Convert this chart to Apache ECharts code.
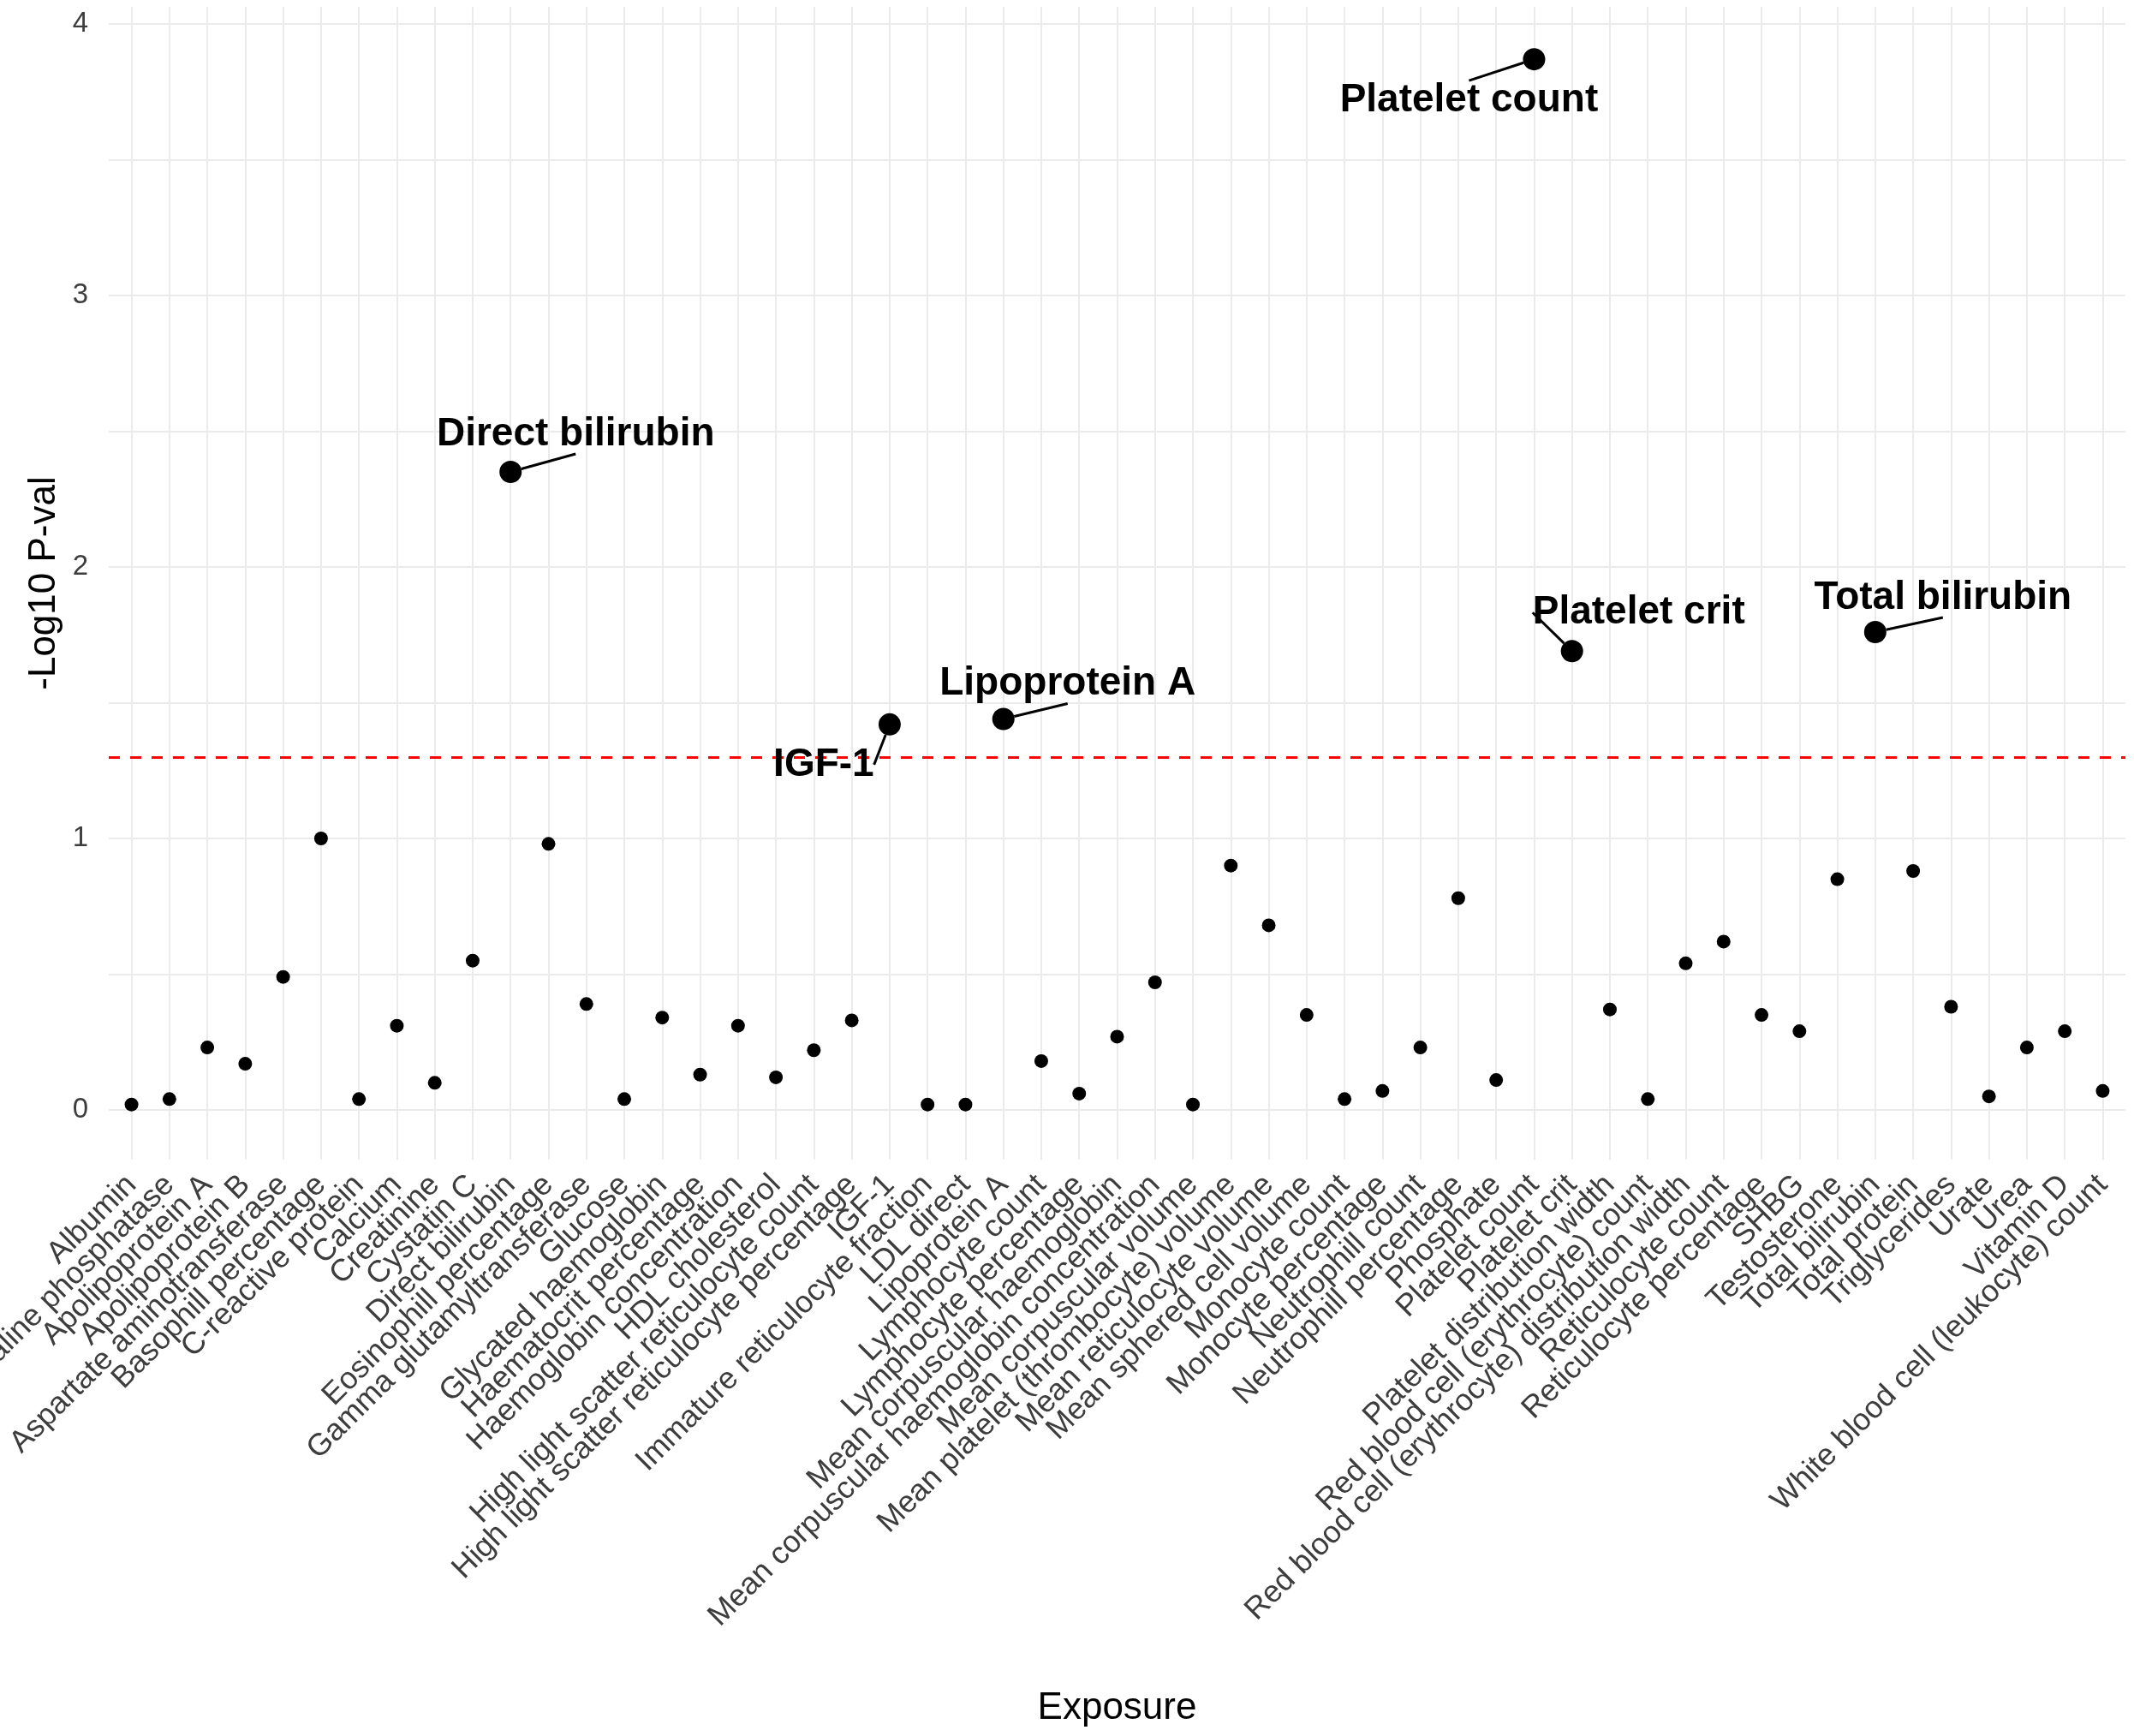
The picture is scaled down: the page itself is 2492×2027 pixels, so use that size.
<!DOCTYPE html>
<html>
<head>
<meta charset="utf-8">
<title>Exposure -Log10 P-val</title>
<script src="https://cdn.jsdelivr.net/npm/echarts@6/dist/echarts.min.js"></script>
<style>
  html, body { margin: 0; padding: 0; background: #fff; }
  #chart { width: 2492px; height: 2027px; }
</style>
</head>
<body>
<div id="chart"></div>
<script>
// exposures, in axis order
var categories = [
  'Albumin', 'Alkaline phosphatase', 'Apolipoprotein A', 'Apolipoprotein B',
  'Aspartate aminotransferase', 'Basophill percentage', 'C-reactive protein', 'Calcium',
  'Creatinine', 'Cystatin C', 'Direct bilirubin', 'Eosinophill percentage',
  'Gamma glutamyltransferase', 'Glucose', 'Glycated haemoglobin', 'Haematocrit percentage',
  'Haemoglobin concentration', 'HDL cholesterol', 'High light scatter reticulocyte count',
  'High light scatter reticulocyte percentage', 'IGF-1', 'Immature reticulocyte fraction',
  'LDL direct', 'Lipoprotein A', 'Lymphocyte count', 'Lymphocyte percentage',
  'Mean corpuscular haemoglobin', 'Mean corpuscular haemoglobin concentration',
  'Mean corpuscular volume', 'Mean platelet (thrombocyte) volume', 'Mean reticulocyte volume',
  'Mean sphered cell volume', 'Monocyte count', 'Monocyte percentage', 'Neutrophill count',
  'Neutrophill percentage', 'Phosphate', 'Platelet count', 'Platelet crit',
  'Platelet distribution width', 'Red blood cell (erythrocyte) count',
  'Red blood cell (erythrocyte) distribution width', 'Reticulocyte count',
  'Reticulocyte percentage', 'SHBG', 'Testosterone', 'Total bilirubin', 'Total protein',
  'Triglycerides', 'Urate', 'Urea', 'Vitamin D', 'White blood cell (leukocyte) count'
];

// -log10(p) per exposure
var logP = [
  0.02, 0.04, 0.23, 0.17, 0.49, 1.00, 0.04, 0.31, 0.10, 0.55,
  2.35, 0.98, 0.39, 0.04, 0.34, 0.13, 0.31, 0.12, 0.22, 0.33,
  1.42, 0.02, 0.02, 1.44, 0.18, 0.06, 0.27, 0.47, 0.02, 0.90,
  0.68, 0.35, 0.04, 0.07, 0.23, 0.78, 0.11, 3.87, 1.69, 0.37,
  0.04, 0.54, 0.62, 0.35, 0.29, 0.85, 1.76, 0.88, 0.38, 0.05,
  0.23, 0.29, 0.07
];

var yTicks = [0, 1, 2, 3, 4];
var yGrid = [0, 0.5, 1, 1.5, 2, 2.5, 3, 3.5, 4];
var pThreshold = 0.05;

var threshold = -Math.log10(pThreshold);

// where the repelled labels sit relative to their point (px)
var labelOffsets = {
  'Direct bilirubin': [76, -44],
  'IGF-1': [-77, 47],
  'Lipoprotein A': [75, -41],
  'Platelet count': [-76, 48],
  'Platelet crit': [78, -45],
  'Total bilirubin': [79, -40]
};

var FONT = '"Liberation Sans", Arial, sans-serif';

var normalPts = [];
var sigPts = [];
categories.forEach(function (c, i) {
  var item = { name: c, value: [i, logP[i]] };
  if (logP[i] > threshold) sigPts.push(item); else normalPts.push(item);
});

// blank end labels so echarts' min/max overlap check doesn't drop a real one
var xLabelValues = [-0.5].concat(categories.map(function (c, i) { return i; }), [categories.length - 0.5]);

var gridLines = [];
categories.forEach(function (c, i) { gridLines.push({ xAxis: i }); });
yGrid.forEach(function (v) { gridLines.push({ yAxis: v }); });
gridLines.push({
  yAxis: threshold,
  lineStyle: { color: '#ff0000', width: 3, type: [13, 12] }
});

var chart = echarts.init(document.getElementById('chart'));

chart.setOption({
  backgroundColor: '#ffffff',
  animation: false,
  grid: { left: 127, right: 10, top: 8, bottom: 673, containLabel: false, outerBoundsMode: 'none' },
  xAxis: {
    type: 'value',
    min: -0.6,
    max: 52.6,
    name: 'Exposure',
    nameLocation: 'middle',
    nameGap: 619,
    nameTextStyle: { fontFamily: FONT, fontSize: 44, color: '#000' },
    axisLine: { show: false },
    axisTick: { show: false },
    splitLine: { show: false },
    axisLabel: {
      customValues: xLabelValues,
      formatter: function (v) {
        var k = Math.round(v);
        return Math.abs(v - k) < 1e-6 && categories[k] ? categories[k] : '';
      },
      hideOverlap: false,
      rotate: 45,
      margin: 24,
      fontFamily: FONT,
      fontSize: 36,
      color: '#3d3d3d'
    }
  },
  yAxis: {
    type: 'value',
    min: -0.183,
    max: 4.063,
    name: '-Log10 P-val',
    nameLocation: 'middle',
    nameGap: 44,
    nameTextStyle: { fontFamily: FONT, fontSize: 44, color: '#000' },
    axisLine: { show: false },
    axisTick: { show: false },
    splitLine: { show: false },
    axisLabel: {
      customValues: yTicks,
      margin: 24,
      fontFamily: FONT,
      fontSize: 33,
      color: '#3d3d3d'
    }
  },
  series: [
    {
      type: 'scatter',
      data: [],
      z: 1,
      silent: true,
      markLine: {
        z: 1,
        silent: true,
        symbol: 'none',
        animation: false,
        label: { show: false },
        lineStyle: { color: '#ebebeb', width: 2, type: 'solid' },
        data: gridLines
      }
    },
    {
      type: 'scatter',
      z: 3,
      symbol: 'circle',
      symbolSize: 16,
      itemStyle: { color: '#000', opacity: 1 },
      data: normalPts
    },
    {
      type: 'scatter',
      z: 4,
      symbol: 'circle',
      symbolSize: 26,
      itemStyle: { color: '#000', opacity: 1 },
      data: sigPts,
      label: {
        show: true,
        position: 'inside',
        formatter: '{b}',
        fontFamily: FONT,
        fontWeight: 'bold',
        fontSize: 46,
        color: '#000',
        textBorderWidth: 0,
        padding: [10, 12]
      },
      labelLine: {
        show: true,
        lineStyle: { color: '#000', width: 3 }
      },
      labelLayout: function (params) {
        var name = sigPts[params.dataIndex].name;
        var off = labelOffsets[name] || [0, -40];
        return { dx: off[0], dy: off[1] };
      }
    }
  ]
});
</script>
</body>
</html>
